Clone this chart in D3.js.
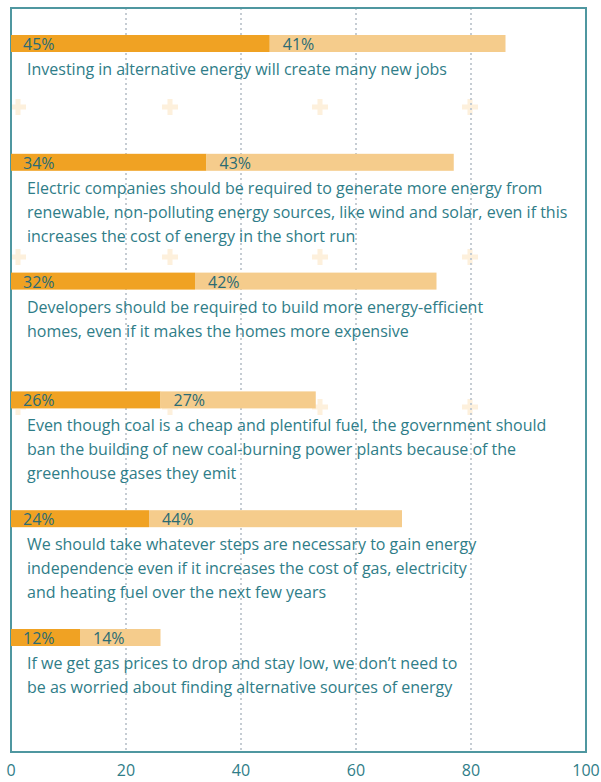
<!DOCTYPE html>
<meta charset="utf-8">
<style>
body { margin: 0; background: #fff; }
text { font-family: 'Open Sans', sans-serif; }
.lbl { fill: #2f7d88; font-size: 16px; }
.pct { fill: #2a6b74; font-size: 16px; }
.tick text { fill: #2f7d88; font-size: 16px; }
</style>
<body>
<svg width="601" height="782"></svg>
<script src="https://d3js.org/d3.v7.min.js"></script>
<script>

var statements = [
  ["Investing in alternative energy will create many new jobs"],
  ["Electric companies should be required to generate more energy from",
   "renewable, non-polluting energy sources, like wind and solar, even if this",
   "increases the cost of energy in the short run"],
  ["Developers should be required to build more energy-efficient",
   "homes, even if it makes the homes more expensive"],
  ["Even though coal is a cheap and plentiful fuel, the government should",
   "ban the building of new coal-burning power plants because of the",
   "greenhouse gases they emit"],
  ["We should take whatever steps are necessary to gain energy",
   "independence even if it increases the cost of gas, electricity",
   "and heating fuel over the next few years"],
  ["If we get gas prices to drop and stay low, we don\u2019t need to",
   "be as worried about finding alternative sources of energy"]
];
var strongly = [45, 34, 32, 26, 24, 12];
var somewhat = [41, 43, 42, 27, 44, 14];
var ticks = [0, 20, 40, 60, 80, 100];

var svg = d3.select("svg");

var x = d3.scaleLinear().domain([0, 100]).range([11, 586]);
var y = d3.scaleBand().domain(d3.range(statements.length)).range([35, 35 + 6 * 118.8]);
var frameTop = 8, frameBottom = 752, barH = 17;

// background crosses
var crossX = [18, 170, 320, 470], crossY = [107, 257, 407];
var crosses = svg.append("g").attr("fill", "#fdf0dc");
crossY.forEach(function(cy) {
  crossX.forEach(function(cx) {
    crosses.append("rect").attr("x", cx - 8).attr("y", cy - 2.5).attr("width", 16).attr("height", 5);
    crosses.append("rect").attr("x", cx - 2.5).attr("y", cy - 8).attr("width", 5).attr("height", 16);
  });
});

// dotted grid
svg.append("g").selectAll("line")
  .data(ticks.slice(1, -1))
  .enter().append("line")
    .attr("x1", x).attr("x2", x)
    .attr("y1", frameTop).attr("y2", frameBottom)
    .attr("stroke", "#c5ccd3")
    .attr("stroke-width", 2)
    .attr("stroke-dasharray", "2,3");

// frame
svg.append("rect")
  .attr("x", x(0)).attr("y", frameTop)
  .attr("width", x(100) - x(0)).attr("height", frameBottom - frameTop)
  .attr("fill", "none")
  .attr("stroke", "#4f97a0")
  .attr("stroke-width", 2);

var row = svg.append("g").selectAll("g")
  .data(statements)
  .enter().append("g")
    .attr("transform", function(d, i) { return "translate(0," + y(i) + ")"; });

row.append("rect")
  .attr("x", x(0))
  .attr("width", function(d, i) { return x(strongly[i]) - x(0); })
  .attr("height", barH)
  .attr("fill", "#f0a223");

row.append("rect")
  .attr("x", function(d, i) { return x(strongly[i]); })
  .attr("width", function(d, i) { return x(strongly[i] + somewhat[i]) - x(strongly[i]); })
  .attr("height", barH)
  .attr("fill", "#f5cc8c");

row.append("text")
  .attr("class", "pct")
  .attr("x", x(0) + 12).attr("y", 15)
  .text(function(d, i) { return strongly[i] + "%"; });

row.append("text")
  .attr("class", "pct")
  .attr("x", function(d, i) { return x(strongly[i]) + 13; }).attr("y", 15)
  .text(function(d, i) { return somewhat[i] + "%"; });

row.append("text")
  .attr("class", "lbl")
  .selectAll("tspan")
  .data(function(d) { return d; })
  .enter().append("tspan")
    .attr("x", 27)
    .attr("y", function(d, i) { return 40 + i * 24; })
    .text(function(d) { return d; });

// axis labels
svg.append("g").attr("class", "tick").selectAll("text")
  .data(ticks)
  .enter().append("text")
    .attr("x", x)
    .attr("y", 776)
    .attr("text-anchor", "middle")
    .text(function(d) { return d; });

</script>
